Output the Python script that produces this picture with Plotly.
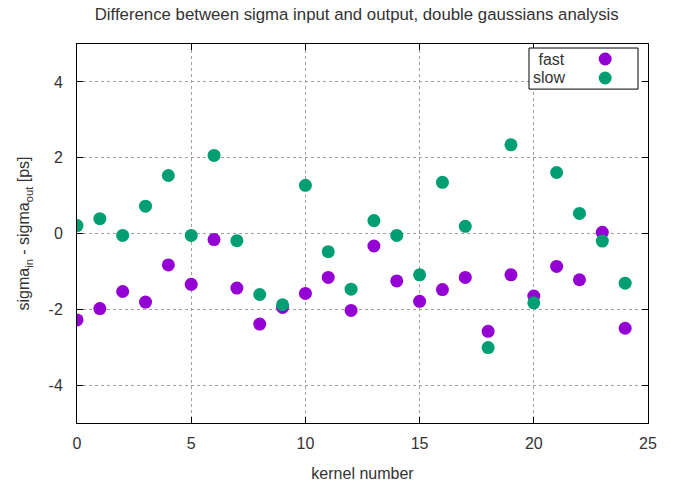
import plotly.graph_objects as go

kernel = list(range(25))
fast = [-2.28, -1.98, -1.53, -1.81, -0.83, -1.34, -0.16, -1.44, -2.39, -1.95,
        -1.58, -1.16, -2.03, -0.33, -1.25, -1.79, -1.48, -1.16, -2.58, -1.09,
        -1.65, -0.87, -1.22, 0.03, -2.50]
slow = [0.21, 0.39, -0.05, 0.72, 1.53, -0.05, 2.06, -0.19, -1.61, -1.88,
        1.27, -0.48, -1.47, 0.34, -0.05, -1.09, 1.35, 0.19, -3.01, 2.34,
        -1.83, 1.61, 0.53, -0.20, -1.31]
series_names = [" fast", "slow"]
colors = ["#9400D3", "#009E73"]
x_ticks = [0, 5, 10, 15, 20, 25]
y_ticks = [-4, -2, 0, 2, 4]
y_ticklabels = ["-4", "-2", "0", "2", "4"]

FONT = "Liberation Sans"
TXT = "#333"
fig = go.Figure()
for name, vals, col in zip(series_names, [fast, slow], colors):
    fig.add_trace(go.Scatter(x=kernel, y=vals, mode="markers", name=name.strip(),
                             marker=dict(size=13, color=col, line=dict(width=0)),
                             showlegend=False))

axis_common = dict(showline=True, linecolor="black", linewidth=1, mirror="ticks",
                   ticks="inside", ticklen=6, tickcolor="black", automargin=False,
                   showgrid=True, gridcolor="#a0a0a0", griddash="dot", gridwidth=1,
                   zeroline=False, tickfont=dict(family=FONT, size=16, color=TXT))
fig.update_xaxes(range=[0, 25], tickvals=x_ticks, ticklabelstandoff=6,
                 title=dict(text="kernel number", font=dict(family=FONT, size=16, color=TXT), standoff=16),
                 **axis_common)
fig.update_yaxes(range=[-5, 5], tickvals=y_ticks, ticktext=y_ticklabels, ticklabelstandoff=10,
                 title=dict(text="sigma<sub>in</sub> - sigma<sub>out</sub> [ps]",
                            font=dict(family=FONT, size=16, color=TXT), standoff=14),
                 **axis_common)

# custom gnuplot-style legend (text left, symbol right)
fig.add_shape(type="rect", xref="paper", yref="paper", x0=0.7916, x1=0.9825, y0=0.881, y1=0.9894,
              line=dict(color="black", width=1), fillcolor="white", layer="above")
legend_y = [0.9604, 0.9103]
for name, col, yy in zip(series_names, colors, legend_y):
    fig.add_annotation(x=0.858, y=yy, xref="paper", yref="paper", text=name, showarrow=False,
                       xanchor="right", yanchor="middle", font=dict(family=FONT, size=16, color=TXT))
    fig.add_shape(type="circle", xref="paper", yref="paper", xsizemode="pixel", ysizemode="pixel",
                  xanchor=0.925, yanchor=yy, x0=-6.5, x1=6.5, y0=-6.5, y1=6.5,
                  fillcolor=col, line=dict(width=0), layer="above")

fig.update_layout(width=686, height=483, margin=dict(l=77, r=38, t=44, b=60, autoexpand=False),
                  plot_bgcolor="white", paper_bgcolor="white",
                  title=dict(text="Difference between sigma input and output, double gaussians analysis",
                             x=0.52, xanchor="center", y=0.971, yanchor="middle", automargin=False,
                             font=dict(family=FONT, size=16.8, color=TXT)))
fig.write_html("out.html")
